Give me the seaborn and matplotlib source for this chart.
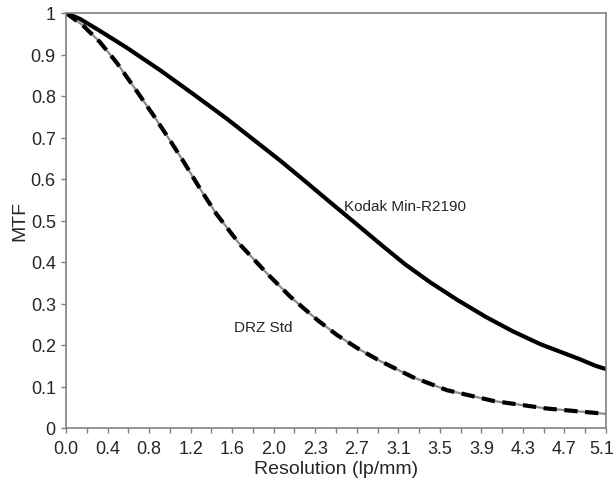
import numpy as np
import pandas as pd
import matplotlib
matplotlib.use("Agg")
import matplotlib.pyplot as plt
import matplotlib.transforms as mtransforms
import seaborn as sns

# Data
kodak_x = [0.0, 0.13, 0.32, 0.57, 0.89, 1.20, 1.52, 1.83, 2.02, 2.21, 2.49, 2.75,
           2.97, 3.20, 3.44, 3.70, 3.97, 4.22, 4.48, 4.85, 5.00, 5.10]
kodak_y = [1.0, 0.986, 0.957, 0.917, 0.862, 0.805, 0.745, 0.683, 0.645, 0.605, 0.545, 0.490,
           0.443, 0.395, 0.351, 0.308, 0.267, 0.233, 0.202, 0.166, 0.150, 0.142]

drz_x = [0.0, 0.16, 0.32, 0.48, 0.64, 0.83, 0.98, 1.11, 1.27, 1.42, 1.64, 1.90, 2.12,
         2.37, 2.56, 2.76, 2.97, 3.28, 3.60, 4.04, 4.54, 5.10]
drz_y = [1.0, 0.970, 0.930, 0.880, 0.822, 0.752, 0.694, 0.642, 0.575, 0.516, 0.443, 0.372, 0.316,
         0.261, 0.224, 0.191, 0.161, 0.122, 0.091, 0.065, 0.047, 0.034]

x_tick_labels = ["0.0", "0.4", "0.8", "1.2", "1.6", "2.0", "2.3", "2.7", "3.1", "3.5", "3.9", "4.3", "4.7", "5.1"]
y_tick_labels = ["0", "0.1", "0.2", "0.3", "0.4", "0.5", "0.6", "0.7", "0.8", "0.9", "1"]

sns.set_style("white")
plt.rcParams['font.family'] = ['Liberation Sans', 'DejaVu Sans']

fig = plt.figure(figsize=(6.16, 4.85), dpi=100)
ax = fig.add_axes([66/616, 1 - 429/485, 540/616, 415/485])

kdf = pd.DataFrame({"x": kodak_x, "y": kodak_y})
ddf = pd.DataFrame({"x": drz_x, "y": drz_y})

sns.lineplot(data=kdf, x="x", y="y", ax=ax, color="black", linewidth=3.0)
sns.lineplot(data=ddf, x="x", y="y", ax=ax, color="#8c8c8c", linewidth=1.6)
sns.lineplot(data=ddf, x="x", y="y", ax=ax, color="black", linewidth=3.0)
ax.lines[-1].set_dashes([3.2, 1.8])
ax.lines[-1].set_dash_capstyle("butt")
for ln in ax.lines:
    ln.set_solid_joinstyle("round")
    ln.set_dash_joinstyle("round")

ax.set_xlim(0, 5.1)
ax.set_ylim(0, 1)

major = np.linspace(0, 5.1, 14)
ax.set_xticks(major)
ax.set_xticklabels(x_tick_labels)
ax.set_xticks((major[:-1] + major[1:]) / 2, minor=True)
ax.set_yticks(np.linspace(0, 1, 11))
ax.set_yticklabels(y_tick_labels)

for s in ax.spines.values():
    s.set_color("#808080")
    s.set_linewidth(1.2)

ax.tick_params(axis="both", which="both", direction="out", color="#808080", width=1.0,
               bottom=True, left=True, top=False, right=False)
ax.tick_params(axis="both", which="major", length=3.8, labelsize=13)
ax.tick_params(axis="x", which="minor", length=3.8)
ax.tick_params(axis="x", which="major", pad=5)
ax.tick_params(axis="y", which="major", pad=3.5)

# Shift the last x tick label slightly left so it fits like in the reference
last = ax.get_xticklabels()[-1]
last.set_transform(last.get_transform() + mtransforms.ScaledTranslation(-4/100, 0, fig.dpi_scale_trans))

ax.set_xlabel("Resolution (lp/mm)", fontsize=14, labelpad=2)
ax.set_ylabel("MTF", fontsize=14, labelpad=1.5)

ax.text(2.625, 0.535, "Kodak Min-R2190", fontsize=11, va="center", ha="left")
ax.text(1.587, 0.243, "DRZ Std", fontsize=11, va="center", ha="left")

fig.savefig("out.png", dpi=100)
